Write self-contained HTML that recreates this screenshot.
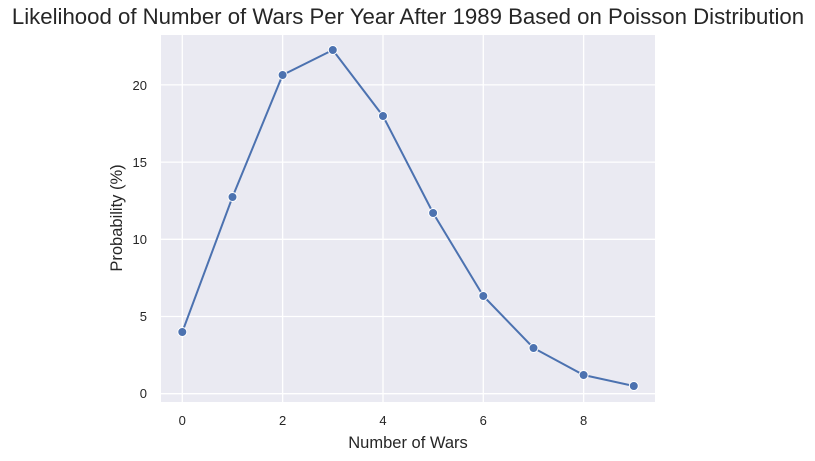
<!DOCTYPE html>
<html><head><style>body{margin:0;background:#fff}svg{display:block}</style></head><body>
<svg width="815" height="461" xmlns="http://www.w3.org/2000/svg" font-family="Liberation Sans, Arial, sans-serif">
<text x="408" y="24" font-size="22.2" text-anchor="middle" fill="#262626">Likelihood of Number of Wars Per Year After 1989 Based on Poisson Distribution</text>
<rect x="161" y="35" width="494" height="367" fill="#eaeaf2"/>
<g stroke="#fff" stroke-width="1.3">
<line x1="182.3" y1="35" x2="182.3" y2="402"/><line x1="282.6" y1="35" x2="282.6" y2="402"/><line x1="383" y1="35" x2="383" y2="402"/><line x1="483.3" y1="35" x2="483.3" y2="402"/><line x1="583.6" y1="35" x2="583.6" y2="402"/>
<line x1="161" y1="393.7" x2="655" y2="393.7"/><line x1="161" y1="316.5" x2="655" y2="316.5"/><line x1="161" y1="239.3" x2="655" y2="239.3"/><line x1="161" y1="162.1" x2="655" y2="162.1"/><line x1="161" y1="84.9" x2="655" y2="84.9"/>
</g>
<g font-size="13" fill="#262626" text-anchor="middle">
<text x="182.3" y="425">0</text><text x="282.6" y="425">2</text><text x="383" y="425">4</text><text x="483.3" y="425">6</text><text x="583.6" y="425">8</text>
</g>
<g font-size="13" fill="#262626" text-anchor="end">
<text x="147" y="398">0</text><text x="147" y="321">5</text><text x="147" y="244">10</text><text x="147" y="167">15</text><text x="147" y="90">20</text>
</g>
<text x="408" y="448" font-size="16.5" text-anchor="middle" fill="#262626">Number of Wars</text>
<text transform="translate(122,218) rotate(-90)" font-size="16.5" text-anchor="middle" fill="#262626">Probability (%)</text>
<polyline fill="none" stroke="#4c72b0" stroke-width="2" points="182.3,332 232.5,197 282.6,75 332.8,50 383,116 433.1,213 483.3,296 533.5,348 583.6,375 633.8,386"/>
<g fill="#4c72b0" stroke="#fff" stroke-width="1">
<circle cx="182.3" cy="332" r="4.5"/><circle cx="232.5" cy="197" r="4.5"/><circle cx="282.6" cy="75" r="4.5"/><circle cx="332.8" cy="50" r="4.5"/><circle cx="383" cy="116" r="4.5"/><circle cx="433.1" cy="213" r="4.5"/><circle cx="483.3" cy="296" r="4.5"/><circle cx="533.5" cy="348" r="4.5"/><circle cx="583.6" cy="375" r="4.5"/><circle cx="633.8" cy="386" r="4.5"/>
</g>
</svg>
</body></html>
